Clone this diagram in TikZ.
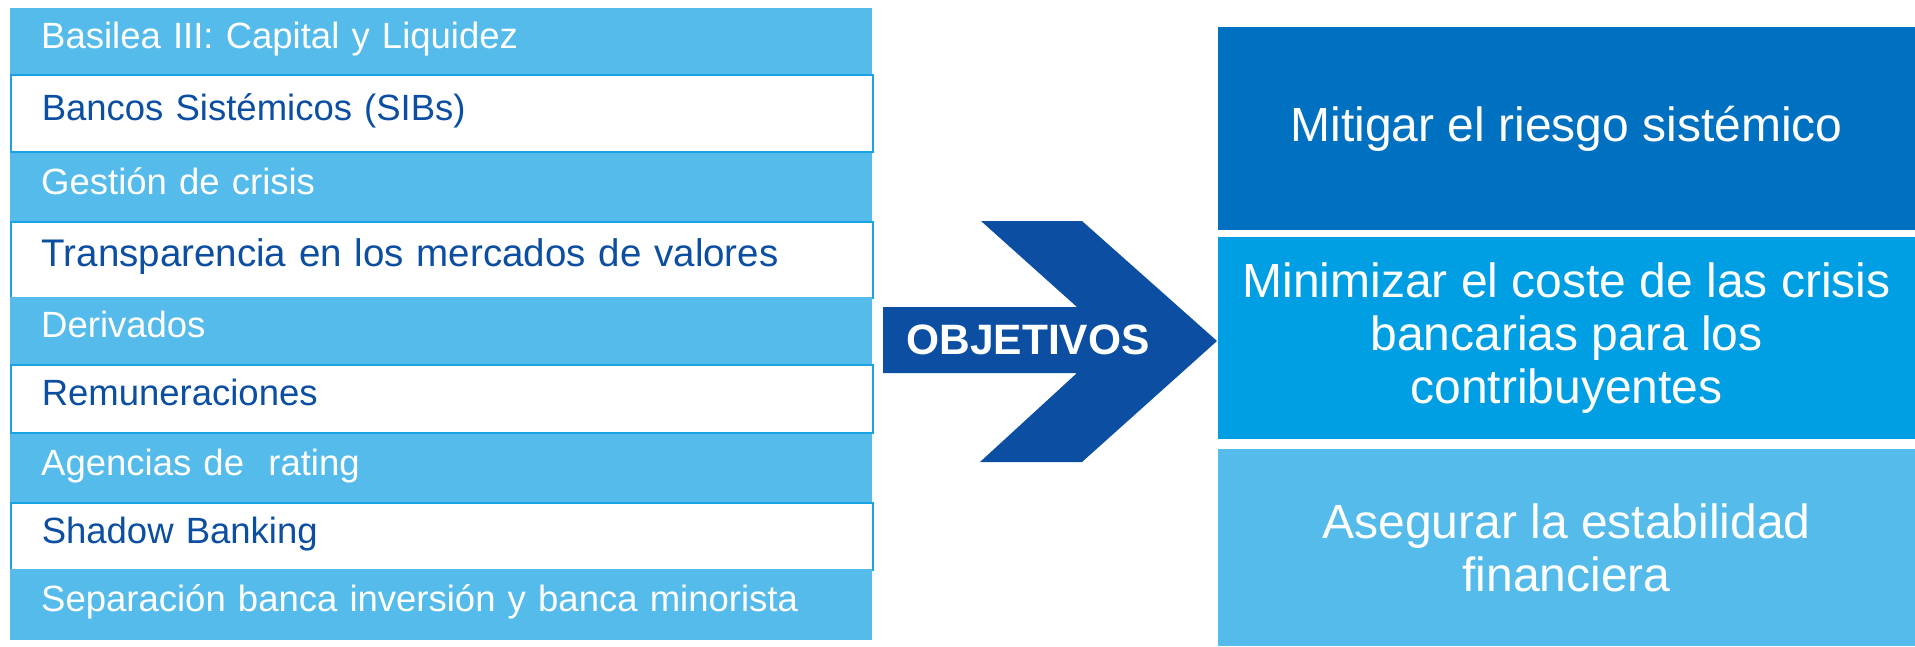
\documentclass[tikz,border=0pt]{standalone}
\usepackage{fontspec}
\setmainfont{Liberation Sans}
\definecolor{lightblue}{HTML}{55BBEB}
\definecolor{boxblue}{HTML}{0070C0}
\definecolor{midblue}{HTML}{009FE3}
\definecolor{navy}{HTML}{0B4EA2}
\definecolor{edgeblue}{HTML}{1AA3E3}

\begin{document}
\begin{tikzpicture}[x=1pt,y=-1pt,
    bar/.style = {anchor=north west, fill=lightblue, text=white, inner xsep=31pt, inner ysep=0pt, text width=800pt, align=left, text height=26pt, text depth=12pt, font=\fontsize{36.5}{40}\selectfont},
    wbar/.style = {bar, fill=white, draw=edgeblue, line width=1.5pt, text=navy},
    goal/.style = {fill=#1, text=white, minimum width=697pt, inner sep=0pt, align=center, font=\fontsize{48}{53}\selectfont}]
                \useasboundingbox (0,0) rectangle (1915,646);
                % left column
                \node[bar, minimum height=66pt] (1) at (10,8) {Basilea III: Capital y Liquidez};
                \node[wbar, minimum height=77pt] (2) at (10,74) {Bancos Sistémicos (SIBs)};
                \node[bar, minimum height=68pt] (3) at (10,153) {Gestión de crisis};
                \node[wbar, minimum height=76pt, font=\fontsize{38.5}{42}\selectfont] (4) at (10,221) {Transparencia en los mercados de valores};
                \node[bar, minimum height=67pt] (5) at (10,297) {Derivados};
                \node[wbar, minimum height=68pt] (6) at (10,364) {Remuneraciones};
                \node[bar, minimum height=68pt] (7) at (10,434) {Agencias de\ \ rating};
                \node[wbar, minimum height=67pt] (8) at (10,502) {Shadow Banking};
                \node[bar, minimum height=71pt] (9) at (10,569) {Separación banca inversión y banca minorista};
                % arrow
                \fill[navy] (883,307) -- (1077,307) -- (981,221) -- (1082,221) -- (1217,341) -- (1082,462) -- (980,462) -- (1077,373) -- (883,373) -- cycle;
                \node[text=white, font=\bfseries\fontsize{42.5}{46}\selectfont] (obj) at (1028,340) {OBJETIVOS};
                % right column
                \node[goal=boxblue, minimum height=203pt] (10) at (1566.5,128.5) {Mitigar el riesgo sistémico};
                \node[goal=midblue, minimum height=202pt] (11) at (1566.5,338) {Minimizar el coste de las crisis\\ bancarias para los\\ contribuyentes};
                \node[goal=lightblue, minimum height=197pt] (12) at (1566.5,547.5) {Asegurar la estabilidad\\ financiera};
            \end{tikzpicture}
\end{document}
